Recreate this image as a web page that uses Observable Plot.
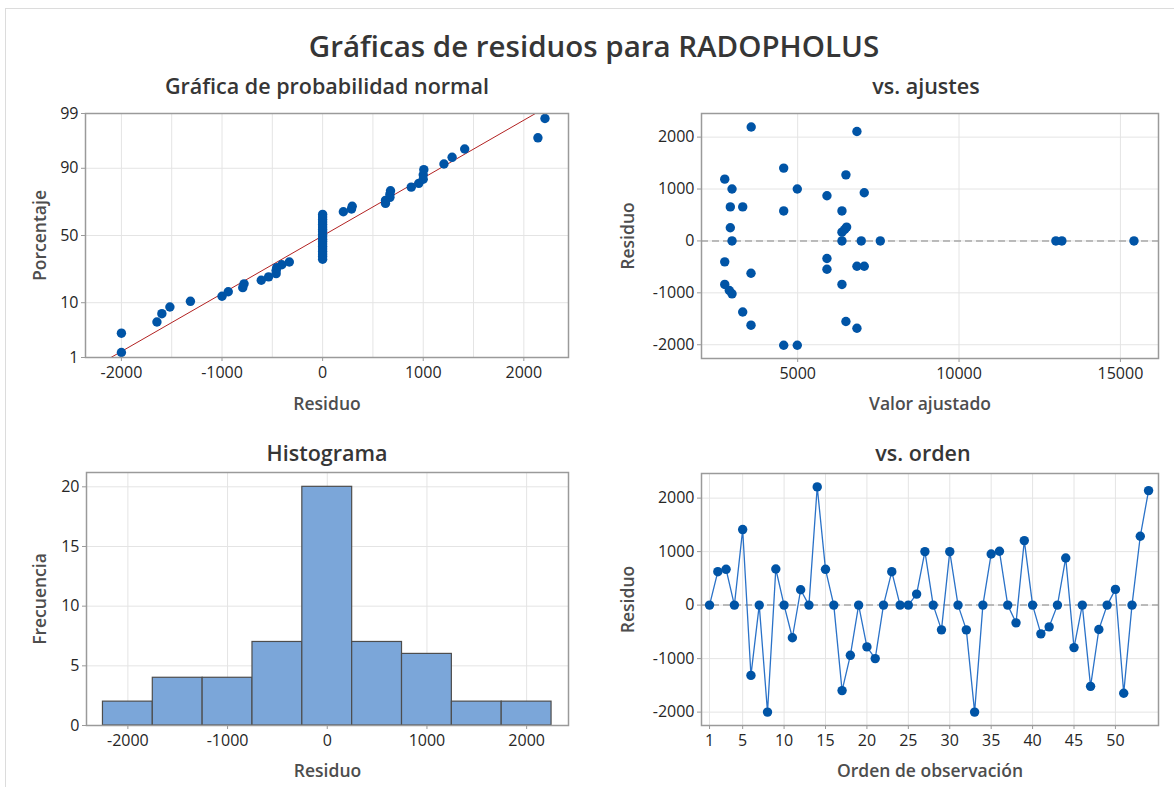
<!DOCTYPE html>
<html>
<head>
<meta charset="utf-8">
<script src="https://cdn.jsdelivr.net/npm/d3@7"></script>
<script src="https://cdn.jsdelivr.net/npm/@observablehq/plot@0.6"></script>
<style>
  html, body { margin: 0; padding: 0; background: #fff; }
  #root { position: relative; width: 1174px; height: 787px; overflow: hidden; font-family: "Open Sans", "Noto Sans", sans-serif; color: #333; }
  .frameline { position: absolute; left: 5px; top: 8px; width: 1300px; height: 900px; border-left: 1px solid #dcdcdc; border-top: 1px solid #dcdcdc; }
  .txt { position: absolute; white-space: nowrap; transform: translate(-50%, -50%); color: #333; }
  .panel { position: absolute; }
  .panel svg { overflow: visible; }
</style>
</head>
<body>
<div id="root">
  <div class="frameline"></div>
</div>
<script>
// ---------- DATA ----------
const mainTitle = "Gráficas de residuos para RADOPHOLUS";
const panelTitles = ["Gráfica de probabilidad normal", "vs. ajustes", "Histograma", "vs. orden"];

// Residuals in observation order (1..54)
const residuo = [0, 625, 669, 0, 1412, -1314, 0, -2000, 675, 0,
  -610, 287, 0, 2210, 669, 0, -1598, -938, 0, -781,
  -1000, 0, 625, 0, 0, 206, 1000, 0, -462, 1000,
  0, -462, -2000, 0, 956, 1006, 0, -331, 1206, 0,
  -537, -406, 0, 881, -794, 0, -1518, -456, 0, 294,
  -1647, 0, 1287, 2140];

// Residuals vs fitted values (visible points)
const ajusteValor = [2740, 2966, 2913, 3297, 2913, 2966, 2740, 3554, 2740, 2882,
  2966, 3297, 3554, 3560, 4567, 4567, 4567, 4988, 4988, 5907,
  5907, 5907, 6372, 6372, 6455, 6517, 6372, 6372, 6495, 6495,
  6836, 6836, 6970, 6836, 7063, 7063, 7560, 13000, 13186, 15420];
const ajusteResiduo = [1190, 1000, 656, 656, 253, 0, -403, -623, -838, -955,
  -1019, -1370, -1623, 2194, 1403, 578, -2010, 1000, -2010, 870,
  -338, -545, 578, 169, 221, 266, 0, -838, 1273, -1552,
  -1682, 2108, 0, -487, -487, 929, 0, 0, 0, 0];

const pctTicks = [1, 10, 50, 90, 99];
const residTicks = [-2000, -1000, 0, 1000, 2000];
const fitTicks = [5000, 10000, 15000];
const countTicks = [0, 5, 10, 15, 20];
const orderTicks = [1, 5, 10, 15, 20, 25, 30, 35, 40, 45, 50];
const histEdges = [-2250, -1750, -1250, -750, -250, 250, 750, 1250, 1750, 2250];

// ---------- helpers ----------
function probit(p) {
  const a = [-3.969683028665376e+01, 2.209460984245205e+02, -2.759285104469687e+02, 1.383577518672690e+02, -3.066479806614716e+01, 2.506628277459239e+00];
  const b = [-5.447609879822406e+01, 1.615858368580409e+02, -1.556989798598866e+02, 6.680131188771972e+01, -1.328068155288572e+01];
  const c = [-7.784894002430293e-03, -3.223964580411365e-01, -2.400758277161838e+00, -2.549671010229583e+00, 4.374664141464968e+00, 2.938163982698783e+00];
  const d = [7.784695709041462e-03, 3.224671290700398e-01, 2.445134137142996e+00, 3.754408661907416e+00];
  const plow = 0.02425;
  let q, r;
  if (p < plow) {
    q = Math.sqrt(-2 * Math.log(p));
    return (((((c[0]*q+c[1])*q+c[2])*q+c[3])*q+c[4])*q+c[5]) / ((((d[0]*q+d[1])*q+d[2])*q+d[3])*q+1);
  } else if (p > 1 - plow) {
    q = Math.sqrt(-2 * Math.log(1 - p));
    return -(((((c[0]*q+c[1])*q+c[2])*q+c[3])*q+c[4])*q+c[5]) / ((((d[0]*q+d[1])*q+d[2])*q+d[3])*q+1);
  }
  q = p - 0.5; r = q * q;
  return (((((a[0]*r+a[1])*r+a[2])*r+a[3])*r+a[4])*r+a[5])*q / (((((b[0]*r+b[1])*r+b[2])*r+b[3])*r+b[4])*r+1);
}

const root = document.getElementById("root");
function addText(str, x, y, size, extra = "") {
  const el = document.createElement("div");
  el.className = "txt";
  el.textContent = str;
  el.style.left = x + "px";
  el.style.top = y + "px";
  el.style.fontSize = size + "px";
  el.style.cssText += extra;
  root.appendChild(el);
}

const BLUE = "#0054a6";
const GRID = "#e4e4e4";
const FRAME = "#9a9a9a";
const TICKC = "#262626";
const LABELC = "#4d4d4d";
const FONT = "\"Open Sans\", \"Noto Sans\", sans-serif";

function place(svg, frameX0, frameY0, m) {
  const wrap = document.createElement("div");
  wrap.className = "panel";
  wrap.style.left = (frameX0 - m.left) + "px";
  wrap.style.top = (frameY0 - m.top) + "px";
  wrap.appendChild(svg);
  root.appendChild(wrap);
}

function panel({x0, x1, y0, y1, xOpt, yOpt, marks, xAxis, yAxis, xLabel, yLabel, xLabelDy, yLabelDx}) {
  const m = {left: 80, right: 12, top: 10, bottom: 60};
  const svg = Plot.plot({
    width: (x1 - x0) + m.left + m.right,
    height: (y1 - y0) + m.top + m.bottom,
    marginLeft: m.left, marginRight: m.right, marginTop: m.top, marginBottom: m.bottom,
    style: {fontFamily: FONT, fontSize: "16px", color: TICKC, background: "transparent", overflow: "visible"},
    x: {...xOpt, axis: null},
    y: {...yOpt, axis: null},
    marks: [
      ...marks,
      Plot.frame({stroke: FRAME, strokeWidth: 1.5}),
      Plot.axisX({...xAxis, anchor: "bottom", tickSize: 4, tickPadding: 5, stroke: FRAME, fill: TICKC, fontSize: 16, label: null}),
      Plot.axisY({...yAxis, anchor: "left", tickSize: 4, tickPadding: 3, stroke: FRAME, fill: TICKC, fontSize: 16, label: null}),
      Plot.text([xLabel], {text: d => d, frameAnchor: "bottom", textAnchor: "middle", dy: xLabelDy, fontSize: 17.5, fontWeight: 600, fill: LABELC}),
      Plot.text([yLabel], {text: d => d, frameAnchor: "left", textAnchor: "middle", dx: yLabelDx, rotate: -90, fontSize: 17.5, fontWeight: 600, fill: LABELC})
    ]
  });
  place(svg, x0, y0, m);
}

// ---------- titles ----------
const TSTYLE = "font-weight:600;color:#363636;";
addText(mainTitle, 594, 45, 29.5, TSTYLE);
addText(panelTitles[0], 327, 85, 21.5, TSTYLE);
addText(panelTitles[1], 926, 85, 21.5, TSTYLE);
addText(panelTitles[2], 327, 452, 21.5, TSTYLE);
addText(panelTitles[3], 923, 452, 21.5, TSTYLE);

// ---------- 1. Normal probability plot ----------
const n = residuo.length;
const sorted = residuo.slice().sort((a, b) => a - b);
const probData = sorted.map((v, i) => ({x: v, z: probit((i + 1 - 0.3) / (n + 0.4))}));
const mu = d3.mean(residuo), sd = d3.deviation(residuo);
const zLo = probit(0.01), zHi = probit(0.99);
const fitLine = [zLo - 0.2, zHi + 0.2].map(z => ({x: mu + sd * z, z}));
const pctZ = pctTicks.map(p => probit(p / 100));

panel({
  x0: 85, x1: 568, y0: 113, y1: 357,
  xOpt: {domain: [-2357, 2444]},
  yOpt: {domain: [zLo, zHi]},
  marks: [
    Plot.gridX(d3.range(-2000, 2001, 500), {stroke: GRID, strokeOpacity: 1}),
    Plot.gridY(pctZ.slice(1, 4), {stroke: GRID, strokeOpacity: 1}),
    Plot.line(fitLine, {x: "x", y: "z", stroke: "#b22222", strokeWidth: 1, clip: true}),
    Plot.dot(probData, {x: "x", y: "z", r: 4.7, fill: BLUE, stroke: "none"})
  ],
  xAxis: {ticks: residTicks, tickFormat: d => String(d)},
  yAxis: {ticks: pctZ, tickFormat: d => String(pctTicks[d3.minIndex(pctZ, z => Math.abs(z - d))])},
  xLabel: "Residuo", xLabelDy: 52,
  yLabel: "Porcentaje", yLabelDx: -45
});

// ---------- 2. Residuals vs fits ----------
const fitData = ajusteValor.map((v, i) => ({x: v, y: ajusteResiduo[i]}));
panel({
  x0: 701, x1: 1158, y0: 113, y1: 358,
  xOpt: {domain: [2020, 16180]},
  yOpt: {domain: [-2265, 2455]},
  marks: [
    Plot.gridX(fitTicks, {stroke: GRID, strokeOpacity: 1}),
    Plot.gridY(residTicks, {stroke: GRID, strokeOpacity: 1}),
    Plot.ruleY([0], {stroke: "#a8a8a8", strokeWidth: 1.5, strokeDasharray: "7,4"}),
    Plot.dot(fitData, {x: "x", y: "y", r: 4.7, fill: BLUE, stroke: "none"})
  ],
  xAxis: {ticks: fitTicks, tickFormat: d => String(d)},
  yAxis: {ticks: residTicks, tickFormat: d => String(d)},
  xLabel: "Valor ajustado", xLabelDy: 51,
  yLabel: "Residuo", yLabelDx: -73
});

// ---------- 3. Histogram ----------
panel({
  x0: 86, x1: 568, y0: 472, y1: 725,
  xOpt: {domain: [-2415, 2420]},
  yOpt: {domain: [0, 21.2]},
  marks: [
    Plot.gridX(residTicks, {stroke: GRID, strokeOpacity: 1}),
    Plot.gridY(countTicks, {stroke: GRID, strokeOpacity: 1}),
    Plot.rectY(residuo, Plot.binX({y: "count"}, {x: d => d, thresholds: histEdges, inset: 0, fill: "#7ba6d9", stroke: "#4d4d4d", strokeWidth: 1.2}))
  ],
  xAxis: {ticks: residTicks, tickFormat: d => String(d)},
  yAxis: {ticks: countTicks, tickFormat: d => String(d)},
  xLabel: "Residuo", xLabelDy: 51,
  yLabel: "Frecuencia", yLabelDx: -46
});

// ---------- 4. Residuals vs order ----------
const orderData = residuo.map((v, i) => ({x: i + 1, y: v}));
panel({
  x0: 701, x1: 1158, y0: 473, y1: 725,
  xOpt: {domain: [0.03, 55.2]},
  yOpt: {domain: [-2250, 2460]},
  marks: [
    Plot.gridX(orderTicks, {stroke: GRID, strokeOpacity: 1}),
    Plot.gridY(residTicks, {stroke: GRID, strokeOpacity: 1}),
    Plot.ruleY([0], {stroke: "#a8a8a8", strokeWidth: 1.5, strokeDasharray: "7,4"}),
    Plot.line(orderData, {x: "x", y: "y", stroke: "#2a72c8", strokeWidth: 1.3}),
    Plot.dot(orderData, {x: "x", y: "y", r: 4.7, fill: BLUE, stroke: "none"})
  ],
  xAxis: {ticks: orderTicks, tickFormat: d => String(d)},
  yAxis: {ticks: residTicks, tickFormat: d => String(d)},
  xLabel: "Orden de observación", xLabelDy: 51,
  yLabel: "Residuo", yLabelDx: -73
});
</script>
</body>
</html>
